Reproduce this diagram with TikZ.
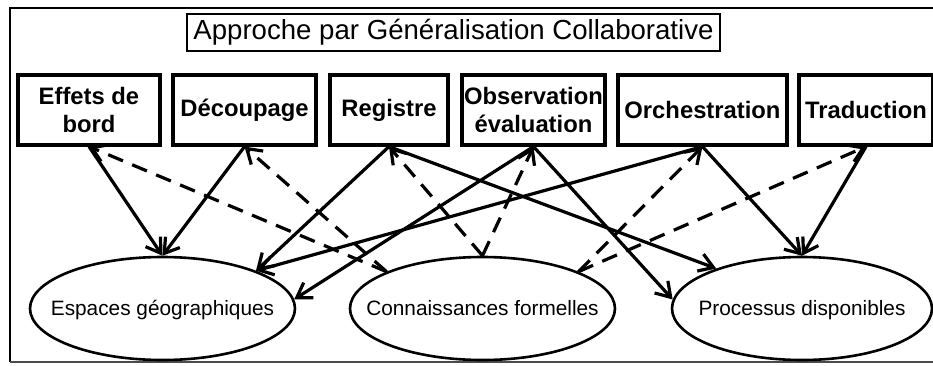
\documentclass[tikz,border=0pt]{standalone}
\usepackage{fontspec}
\setmainfont{Liberation Sans}
\usetikzlibrary{arrows.meta,shapes.geometric}
\tikzset{
	bloc/.style={draw, line width=1.6pt, minimum height=35pt, inner sep=0pt, align=center, font=\bfseries\fontsize{11.9}{14}\selectfont},
	oval/.style={draw, ellipse, line width=1.3pt, minimum height=51.5pt, inner sep=0pt, text height=8pt, text depth=1.5pt, font=\fontsize{10.4}{12}\selectfont},
	lien/.style={line width=1.6pt, -{Straight Barb[length=7pt,width=9pt]}},
	retour/.style={lien, dash pattern=on 8pt off 5pt},
}

\begin{document}
\begin{tikzpicture}[x=0.5pt,y=-0.5pt]
		%%%%% START %%%%%
		\useasboundingbox (0,0) rectangle (933,365);
		
		\draw[line width=1.1pt] (10,362) -- (10,8) -- (945,8);
		\draw[line width=1.1pt, color=black!70] (10,362) -- (945,362);
		
		\node[draw, line width=1.1pt, minimum width=266.5pt, minimum height=18.5pt, inner sep=0pt, font=\fontsize{13.8}{16}\selectfont] (titre) at (453.5,32.5) {Approche par Généralisation Collaborative};
		
		\node[bloc, minimum width=71pt] (effets) at (89,110) {Effets de\\bord};
		\node[bloc, minimum width=71.5pt] (decoupage) at (244.5,110) {Découpage};
		\node[bloc, minimum width=59pt] (registre) at (389,110) {Registre};
		\node[bloc, minimum width=71.5pt] (observation) at (533.5,110) {Observation\\évaluation};
		\node[bloc, minimum width=84.5pt] (orchestration) at (702.5,110) {Orchestration};
		\node[bloc, minimum width=67pt] (traduction) at (866,110) {Traduction};
		
		\node[oval, minimum width=132.5pt] (espaces) at (162.5,308.5) {\makebox[0pt]{Espaces géographiques}};
		\node[oval, minimum width=132.5pt] (connaissances) at (482.5,308.5) {\makebox[0pt]{Connaissances formelles}};
		\node[oval, minimum width=130pt] (processus) at (802,308.5) {\makebox[0pt]{Processus disponibles}};
		
		\draw[lien] (effets.south) -- (espaces.north);
		\draw[lien] (decoupage.south) -- (espaces.north);
		\draw[lien] (registre.south) -- (espaces.22);
		\draw[lien] (orchestration.south) -- (espaces.22);
		\draw[lien] (observation.south) -- (espaces.4);
		
		\draw[lien] (registre.south) -- (processus.155);
		\draw[lien] (observation.south) -- (processus.176);
		\draw[lien] (orchestration.south) -- (processus.north);
		\draw[lien] (traduction.south) -- (processus.north);
		
		\draw[retour] (connaissances.159) -- (effets.south);
		\draw[retour] (connaissances.159) -- (decoupage.south);
		\draw[retour] (connaissances.north) -- (registre.south);
		\draw[retour] (connaissances.north) -- (observation.south);
		\draw[retour] (connaissances.21) -- (orchestration.south);
		\draw[retour] (connaissances.21) -- (traduction.south);
		
		%%%%% END %%%%%
	\end{tikzpicture}
\end{document}
